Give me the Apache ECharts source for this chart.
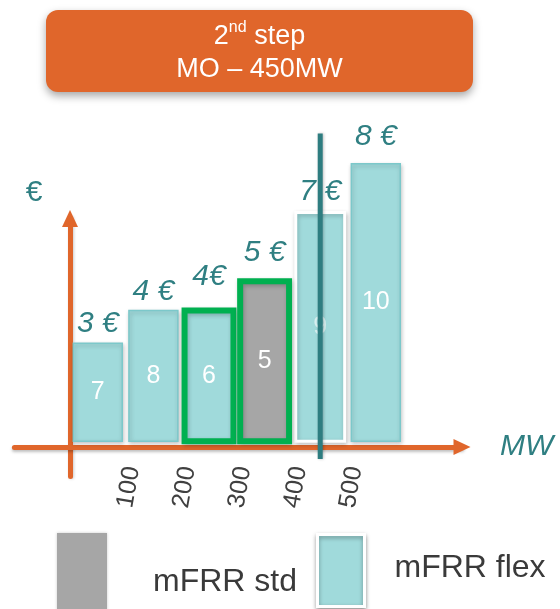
<!DOCTYPE html>
<html>
<head>
<meta charset="utf-8">
<script src="https://cdn.jsdelivr.net/npm/echarts@6/dist/echarts.min.js"></script>
<style>
  html, body { margin: 0; padding: 0; background: #ffffff; }
  #chart { width: 560px; height: 609px; }
</style>
</head>
<body>
<div id="chart"></div>
<script>
// ---- data ----
const mwStart      = [0, 100, 200, 300, 400, 500];
const mwEnd        = [100, 200, 300, 400, 500, 600];
const barHeights   = [3, 4, 4, 4.9, 7, 8.5];          // € (bar heights)
const priceLabels  = ['3 €', '4 €', '4€', '5 €', '7 €', '8 €'];
const offerCounts  = [7, 8, 6, 5, 9, 10];
const productType  = ['flex', 'flex', 'flex', 'std', 'flex', 'flex'];
const selected     = [false, false, true, true, false, false];
const marginal     = [false, false, false, false, true, false];
const xTickLabels  = ['100', '200', '300', '400', '500'];
const demandMW     = 450;
const demandLineY  = [-0.37, 9.6];
const titleLine1   = ['2', 'nd', ' step'];
const titleLine2   = 'MO – 450MW';
const legendNames  = ['mFRR std', 'mFRR flex'];

// ---- styling / layout constants ----
const FONT = '"Liberation Sans", Arial, sans-serif';
const ORANGE = '#E0662B';
const TEAL_TEXT = '#2F7F82';
const TEAL_LINE = '#2E7D80';
const FLEX_COLOR = '#A0DADB';
const FLEX_EDGE = '#7CC8CA';
const STD_COLOR = '#A6A6A6';
const GREEN = '#00B050';
const BAR_PAD = 6;       // MW on each side
const BAR_BASE = 0.18;   // bars float slightly above axis
const LABEL_GAP = [20, 19, 34, 29, 21, 27];

const rows = mwStart.map((s, i) => [s, mwEnd[i], barHeights[i], i]);

function renderBar(params, api) {
  const i = api.value(3);
  const tl = api.coord([api.value(0) + BAR_PAD, BAR_BASE + api.value(2)]);
  const br = api.coord([api.value(1) - BAR_PAD, BAR_BASE]);
  const w = br[0] - tl[0], h = br[1] - tl[1];
  const isStd = productType[i] === 'std';
  let stroke = FLEX_EDGE, lw = 1.5;
  if (selected[i]) { stroke = GREEN; lw = 6; }
  else if (marginal[i]) { stroke = '#ffffff'; lw = 3; }
  const cx = tl[0] + w / 2;
  return {
    type: 'group',
    children: [
      { type: 'rect', shape: { x: tl[0], y: tl[1], width: w, height: h },
        style: { fill: isStd ? STD_COLOR : FLEX_COLOR, stroke: stroke, lineWidth: lw,
                 shadowBlur: 4, shadowOffsetX: 1, shadowOffsetY: 2, shadowColor: 'rgba(0,0,0,0.22)' } },
      { type: 'text', x: cx, y: tl[1] + h / 2,
        style: { text: String(offerCounts[i]), fill: marginal[i] ? 'rgba(255,255,255,0.6)' : '#ffffff',
                 fontSize: 25, fontFamily: FONT, align: 'center', verticalAlign: 'middle' } },
      { type: 'text', x: cx, y: tl[1] - LABEL_GAP[i],
        style: { text: priceLabels[i], fill: TEAL_TEXT, fontSize: 30, fontStyle: 'italic',
                 fontFamily: FONT, align: 'center', verticalAlign: 'middle' } }
    ]
  };
}

const chart = echarts.init(document.getElementById('chart'), null, { renderer: 'canvas' });

const option = {
  backgroundColor: '#ffffff',
  animation: false,
  textStyle: { fontFamily: FONT },
  grid: { left: 14.4, right: 98, top: 218.5, bottom: 132.6, containLabel: false, outerBoundsMode: 'none' },
  xAxis: {
    type: 'value', min: -100, max: 705, interval: 100,
    name: 'MW', nameLocation: 'end', nameGap: 38,
    nameTextStyle: { fontSize: 30, fontStyle: 'italic', color: TEAL_TEXT, fontFamily: FONT, verticalAlign: 'middle' },
    axisLine: { show: true, onZero: true, symbol: ['none', 'triangle'], symbolSize: [16, 17],
      lineStyle: { color: ORANGE, width: 5, shadowBlur: 3, shadowOffsetY: 2, shadowColor: 'rgba(0,0,0,0.25)' } },
    axisTick: { show: false },
    splitLine: { show: false },
    axisLabel: {
      rotate: 80, margin: -11, fontSize: 25, color: '#404040', fontFamily: FONT,
      formatter: v => (xTickLabels.indexOf(String(v)) >= 0 ? '{p|' + v + '}' : ''),
      rich: { p: { fontSize: 25, color: '#404040', fontFamily: FONT, padding: [14, 0, 0, 0] } }
    }
  },
  yAxis: {
    type: 'value', min: -0.9, max: 7,
    name: '€', nameLocation: 'end', nameGap: 11,
    nameTextStyle: { fontSize: 30, color: TEAL_TEXT, fontFamily: FONT, padding: [0, 72, 0, 0] },
    axisLine: { show: true, onZero: true, symbol: ['none', 'triangle'], symbolSize: [16, 17],
      lineStyle: { color: ORANGE, width: 5, shadowBlur: 3, shadowOffsetX: 1, shadowColor: 'rgba(0,0,0,0.2)' } },
    axisTick: { show: false },
    axisLabel: { show: false },
    splitLine: { show: false }
  },
  legend: [
    {
      data: [{ name: legendNames[0], icon: 'rect',
               itemStyle: { color: STD_COLOR, borderWidth: 0, shadowBlur: 3, shadowColor: 'rgba(0,0,0,0.2)' } }],
      left: 57, top: 533, padding: 0, itemWidth: 50, itemHeight: 78, selectedMode: false,
      formatter: '{t|{name}}',
      textStyle: { rich: { t: { fontSize: 32, color: '#3a3a3a', fontFamily: FONT, padding: [20, 0, 0, 41] } } }
    },
    {
      data: [{ name: legendNames[1], icon: 'rect',
               itemStyle: { color: FLEX_COLOR, borderColor: '#ffffff', borderWidth: 3,
                            shadowBlur: 4, shadowOffsetY: 2, shadowColor: 'rgba(0,0,0,0.35)' } }],
      left: 316, top: 533, padding: 0, itemWidth: 47, itemHeight: 72, selectedMode: false,
      formatter: '{t|{name}}',
      textStyle: { rich: { t: { fontSize: 32, color: '#3a3a3a', fontFamily: FONT, padding: [0, 0, 4, 25] } } }
    }
  ],
  graphic: [
    { type: 'rect', shape: { x: 46, y: 10, width: 427, height: 82, r: 12 },
      style: { fill: ORANGE, shadowBlur: 8, shadowOffsetY: 4, shadowColor: 'rgba(0,0,0,0.35)' } },
    { type: 'text', x: 259.5, y: 53,
      style: {
        text: '{a|' + titleLine1[0] + '}{s|' + titleLine1[1] + '}{a|' + titleLine1[2] + '}\n{a|' + titleLine2 + '}',
        align: 'center', verticalAlign: 'middle',
        rich: {
          a: { fontSize: 27, lineHeight: 33, fill: '#ffffff', fontFamily: FONT },
          s: { fontSize: 16, lineHeight: 22, fill: '#ffffff', fontFamily: FONT, verticalAlign: 'top' }
        }
      } }
  ],
  series: [
    { name: legendNames[1], type: 'custom', renderItem: renderBar, clip: false,
      itemStyle: { color: FLEX_COLOR },
      encode: { x: [0, 1], y: 2 },
      data: rows.filter(r => productType[r[3]] === 'flex') },
    { name: legendNames[0], type: 'custom', renderItem: renderBar, clip: false,
      itemStyle: { color: STD_COLOR },
      encode: { x: [0, 1], y: 2 },
      data: rows.filter(r => productType[r[3]] === 'std') },
    { name: 'demand', type: 'line', z: 5, clip: false, silent: true, symbol: 'none',
      lineStyle: { color: TEAL_LINE, width: 5, shadowBlur: 3, shadowOffsetX: 1, shadowColor: 'rgba(0,0,0,0.25)' },
      data: [[demandMW, demandLineY[0]], [demandMW, demandLineY[1]]] }
  ]
};

chart.setOption(option);
</script>
</body>
</html>
